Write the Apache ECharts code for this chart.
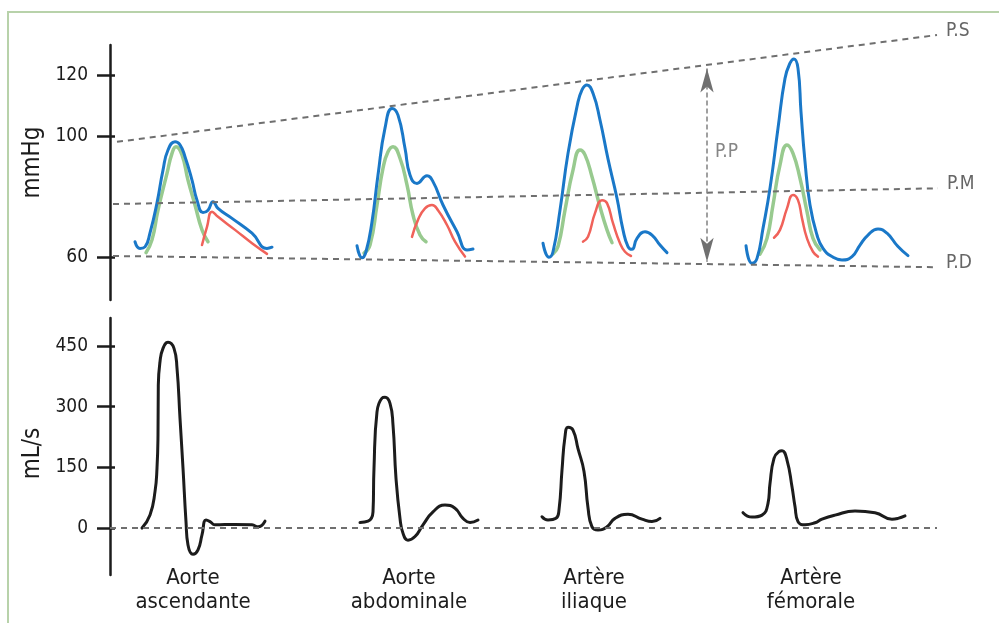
<!DOCTYPE html>
<html>
<head>
<meta charset="utf-8">
<title>Ondes de pression et de débit</title>
<script src="https://cdn.jsdelivr.net/npm/echarts@6.0.0/dist/echarts.min.js"></script>
<style>
    html, body { margin: 0; padding: 0; background: #fff; }
    #chart { width: 999px; height: 623px; }
</style>
</head>
<body>
<div id="chart"></div>
<script>
    // sites, read from left to right
    var sites = ['Aorte\nascendante', 'Aorte\nabdominale', 'Artère\niliaque', 'Artère\nfémorale'];
    var siteCenters = [83, 299, 484, 701];

    var pressureTicks = [60, 100, 120];
    var flowTicks = [0, 150, 300, 450];

    // pressure (mmHg): total wave, forward wave, reflected wave  [t, value]
    var ascTotal = [[25,65.2],[30,63.0],[35,63.5],[40,68.1],[47,78.0],[53,88.8],[58,95.4],[65,98.1],[70,97.1],[75,93.2],[82,85.5],[87,78.9],[93,74.8],[98,75.6],[103,78.4],[108,76.2],[122,72.9],[142,68.0],[157,63.0],[162,63.4]];
    var ascForward = [[36,61.6],[42,65.8],[48,75.6],[57,87.7],[62,94.3],[66,96.5],[72,93.8],[78,85.5],[85,77.3],[92,69.1],[98,65.2]];
    var ascReflected = [[92,64.1],[97,70.1],[102,75.1],[108,73.4],[125,69.1],[142,64.7],[157,61.2]];

    var abdTotal = [[247,63.9],[252,59.9],[256,61.9],[262,71.8],[268,87.2],[275,102.6],[282,109.1],[288,106.9],[295,96.0],[300,87.2],[307,84.4],[317,86.9],[323,85.0],[333,77.3],[347,68.5],[357,62.5],[363,62.8]];
    var abdForward = [[254,61.4],[260,64.1],[267,77.3],[273,89.4],[278,94.8],[283,96.5],[290,92.7],[297,83.9],[303,74.0],[310,67.4],[316,65.2]];
    var abdReflected = [[302,66.8],[308,72.4],[315,76.2],[322,77.3],[328,75.6],[337,70.7],[345,65.2],[355,60.3]];

    var iliTotal = [[433,64.7],[439,60.1],[443,61.9],[450,75.6],[458,94.3],[467,109.7],[472,115.2],[477,116.8],[483,114.1],[490,105.3],[498,92.5],[507,79.5],[513,69.1],[518,63.6],[522,62.7],[527,66.3],[535,68.5],[542,67.4],[550,64.1],[557,61.6]];
    var iliForward = [[443,61.2],[448,63.6],[455,75.6],[463,88.8],[470,95.4],[475,93.8],[482,86.6],[490,76.7],[497,69.1],[502,64.9]];
    var iliReflected = [[473,65.2],[478,66.8],[485,74.6],[492,78.9],[497,77.9],[503,71.3],[510,64.7],[515,61.9],[521,60.5]];

    var femTotal = [[636,63.9],[642,58.1],[647,59.7],[653,69.6],[660,82.8],[668,102.6],[675,119.0],[680,124.0],[684,125.4],[688,122.3],[691,108.0],[695,91.6],[700,77.3],[707,67.4],[713,63.0],[722,60.3],[732,59.2],[742,60.3],[750,64.1],[758,67.4],[768,69.4],[777,68.0],[788,63.6],[798,60.6]];
    var femForward = [[650,61.1],[657,66.3],[663,77.3],[670,90.5],[677,97.1],[683,94.3],[690,86.1],[697,75.1],[703,66.3],[710,62.5]];
    var femReflected = [[664,66.5],[670,69.1],[677,76.2],[683,80.6],[688,78.9],[692,72.9],[697,66.3],[703,61.9],[708,60.3]];

    // flow (mL/s)
    var ascFlow = [[32,0],[40,32],[45,90],[47,148],[48,230],[48.3,353],[50,411],[53,444],[58,459],[64,444],[67,395],[70,271],[73,148],[76,16],[78,-42],[83,-65],[88,-54],[92,-17],[96,20],[100,16],[105,8],[125,9],[142,8],[148,3],[155,17]];
    var abdFlow = [[250,14],[258,17],[263,40],[264,148],[267,287],[272,321],[275,323],[280,308],[283,255],[286,123],[290,24],[293,-13],[298,-30],[305,-21],[313,8],[323,40],[335,57],[345,49],[353,24],[360,14],[368,20]];
    var iliFlow = [[432,28],[438,20],[446,24],[449,45],[452,143],[455,226],[458,249],[463,242],[468,196],[474,140],[478,50],[482,3],[488,-5],[497,3],[505,24],[518,34],[532,22],[542,16],[550,24]];
    var femFlow = [[633,38],[642,27],[652,32],[658,61],[660,110],[664,172],[669,189],[672,191],[677,168],[682,102],[685,53],[688,16],[695,8],[705,13],[712,22],[725,32],[745,42],[765,38],[782,22],[788,24],[795,30]];

    // systolic, mean, diastolic pressure lines and pulse pressure
    var psLine = [[7,98.1],[827,133.3]];
    var pmLine = [[3,77.6],[828,82.8]];
    var pdLine = [[3,60.5],[827,56.8]];
    var ppArrow = [[597,122.3],[597,58.6]];
    var ppLabel = [[597,94.7]];
    var zeroLine = [[0,0],[827,0]];

    var FONT = '"DejaVu Sans Condensed", "Liberation Sans Narrow", "DejaVu Sans", sans-serif';
    var BLUE = '#1a78c8', GREEN = '#98ca8f', RED = '#f0625a', INK = '#1c1c1c', DASH = '#6f6f6f';

    function wave(name, data, color, width, grid) {
        return {
            type: 'line', name: name, data: data,
            xAxisIndex: grid, yAxisIndex: grid * 2,
            smooth: 0.5, showSymbol: false, silent: true,
            lineStyle: { color: color, width: width, cap: 'round', join: 'round' }
        };
    }

    function refLine(name, data) {
        return {
            type: 'line', name: name, data: data,
            xAxisIndex: 0, yAxisIndex: 0, clip: false,
            showSymbol: false, silent: true,
            lineStyle: { color: DASH, width: 2, type: [6, 5] },
            endLabel: {
                show: true, formatter: '{a}', distance: 9, offset: [0, -4],
                color: '#666', fontSize: 19, fontFamily: FONT
            }
        };
    }

    var pressures = [
        [ascForward, ascReflected, ascTotal],
        [abdForward, abdReflected, abdTotal],
        [iliForward, iliReflected, iliTotal],
        [femForward, femReflected, femTotal]
    ];
    var flows = [ascFlow, abdFlow, iliFlow, femFlow];

    var series = [];
    pressures.forEach(function (p, i) {
        series.push(wave('forward' + i, p[0], GREEN, 3.5, 0));
        series.push(wave('reflected' + i, p[1], RED, 2.5, 0));
        series.push(wave('total' + i, p[2], BLUE, 3, 0));
    });
    flows.forEach(function (f, i) {
        series.push(wave('flow' + i, f, INK, 3, 1));
    });

    series.push(refLine('P.S', psLine));
    series.push(refLine('P.M', pmLine));
    series.push(refLine('P.D', pdLine));

    // double arrow for pulse pressure, tips on the data points
    series.push({
        type: 'line', name: 'P.P arrow',
        data: [
            { value: ppArrow[0], symbolRotate: 0 },
            { value: ppArrow[1], symbolRotate: 180 }
        ],
        xAxisIndex: 0, yAxisIndex: 0, silent: true,
        symbol: 'arrow', symbolSize: [10, 24], showSymbol: true,
        itemStyle: { color: '#707070' },
        lineStyle: { color: '#808080', width: 1.5, type: [5, 3] }
    });
    series.push({
        type: 'scatter', name: 'P.P', data: ppLabel,
        xAxisIndex: 0, yAxisIndex: 0, symbolSize: 0, silent: true,
        label: {
            show: true, formatter: 'P.P', position: 'right', distance: 8,
            color: '#666', fontSize: 19, fontFamily: FONT
        }
    });

    series.push({
        type: 'line', name: 'zero', data: zeroLine,
        xAxisIndex: 1, yAxisIndex: 2, showSymbol: false, silent: true,
        lineStyle: { color: DASH, width: 2, type: [6, 5] }
    });

    function mainY(grid, min, max, ticks, name, namePad) {
        return {
            type: 'value', gridIndex: grid, min: min, max: max,
            name: name, nameLocation: 'middle', nameGap: 64,
            nameTextStyle: { color: INK, fontSize: 24, fontFamily: FONT, padding: namePad },
            axisLine: { show: true, lineStyle: { color: INK, width: 2.5 } },
            axisTick: { show: true, customValues: ticks, length: 13, lineStyle: { color: INK, width: 2.5 } },
            axisLabel: { customValues: ticks, margin: 22, color: INK, fontSize: 19, fontFamily: FONT },
            splitLine: { show: false }
        };
    }
    // short tick stub on the inner side of the axis
    function innerY(grid, min, max, ticks) {
        return {
            type: 'value', gridIndex: grid, min: min, max: max, position: 'left',
            axisLine: { show: false },
            axisTick: { show: true, inside: true, customValues: ticks, length: 5, lineStyle: { color: INK, width: 2.5 } },
            axisLabel: { show: false },
            splitLine: { show: false }
        };
    }

    var option = {
        animation: false,
        backgroundColor: '#fff',
        graphic: [{
            type: 'rect', silent: true,
            shape: { x: 8, y: 12, width: 1100, height: 700 },
            style: { fill: 'none', stroke: '#b8d2aa', lineWidth: 2 }
        }],
        grid: [
            { left: 110, top: 45, width: 850, height: 255 },
            { left: 110, top: 318, width: 850, height: 257 }
        ],
        xAxis: [
            { type: 'value', gridIndex: 0, min: 0, max: 850, show: false },
            {
                type: 'value', gridIndex: 1, min: 0, max: 850,
                axisLine: { show: false }, axisTick: { show: false }, splitLine: { show: false },
                axisLabel: {
                    customValues: siteCenters, margin: -9,
                    color: INK, fontSize: 22, lineHeight: 24, fontFamily: FONT,
                    formatter: function (v) { return sites[siteCenters.indexOf(v)] || ''; }
                }
            }
        ],
        yAxis: [
            mainY(0, 46, 130, pressureTicks, 'mmHg', [0, 0, 0, 20]),
            innerY(0, 46, 130, pressureTicks),
            mainY(1, -116, 519, flowTicks, 'mL/s', [0, 14, 0, 0]),
            innerY(1, -116, 519, flowTicks)
        ],
        series: series
    };

    var myChart = echarts.init(document.getElementById('chart'));
    myChart.setOption(option);
</script>
</body>
</html>
